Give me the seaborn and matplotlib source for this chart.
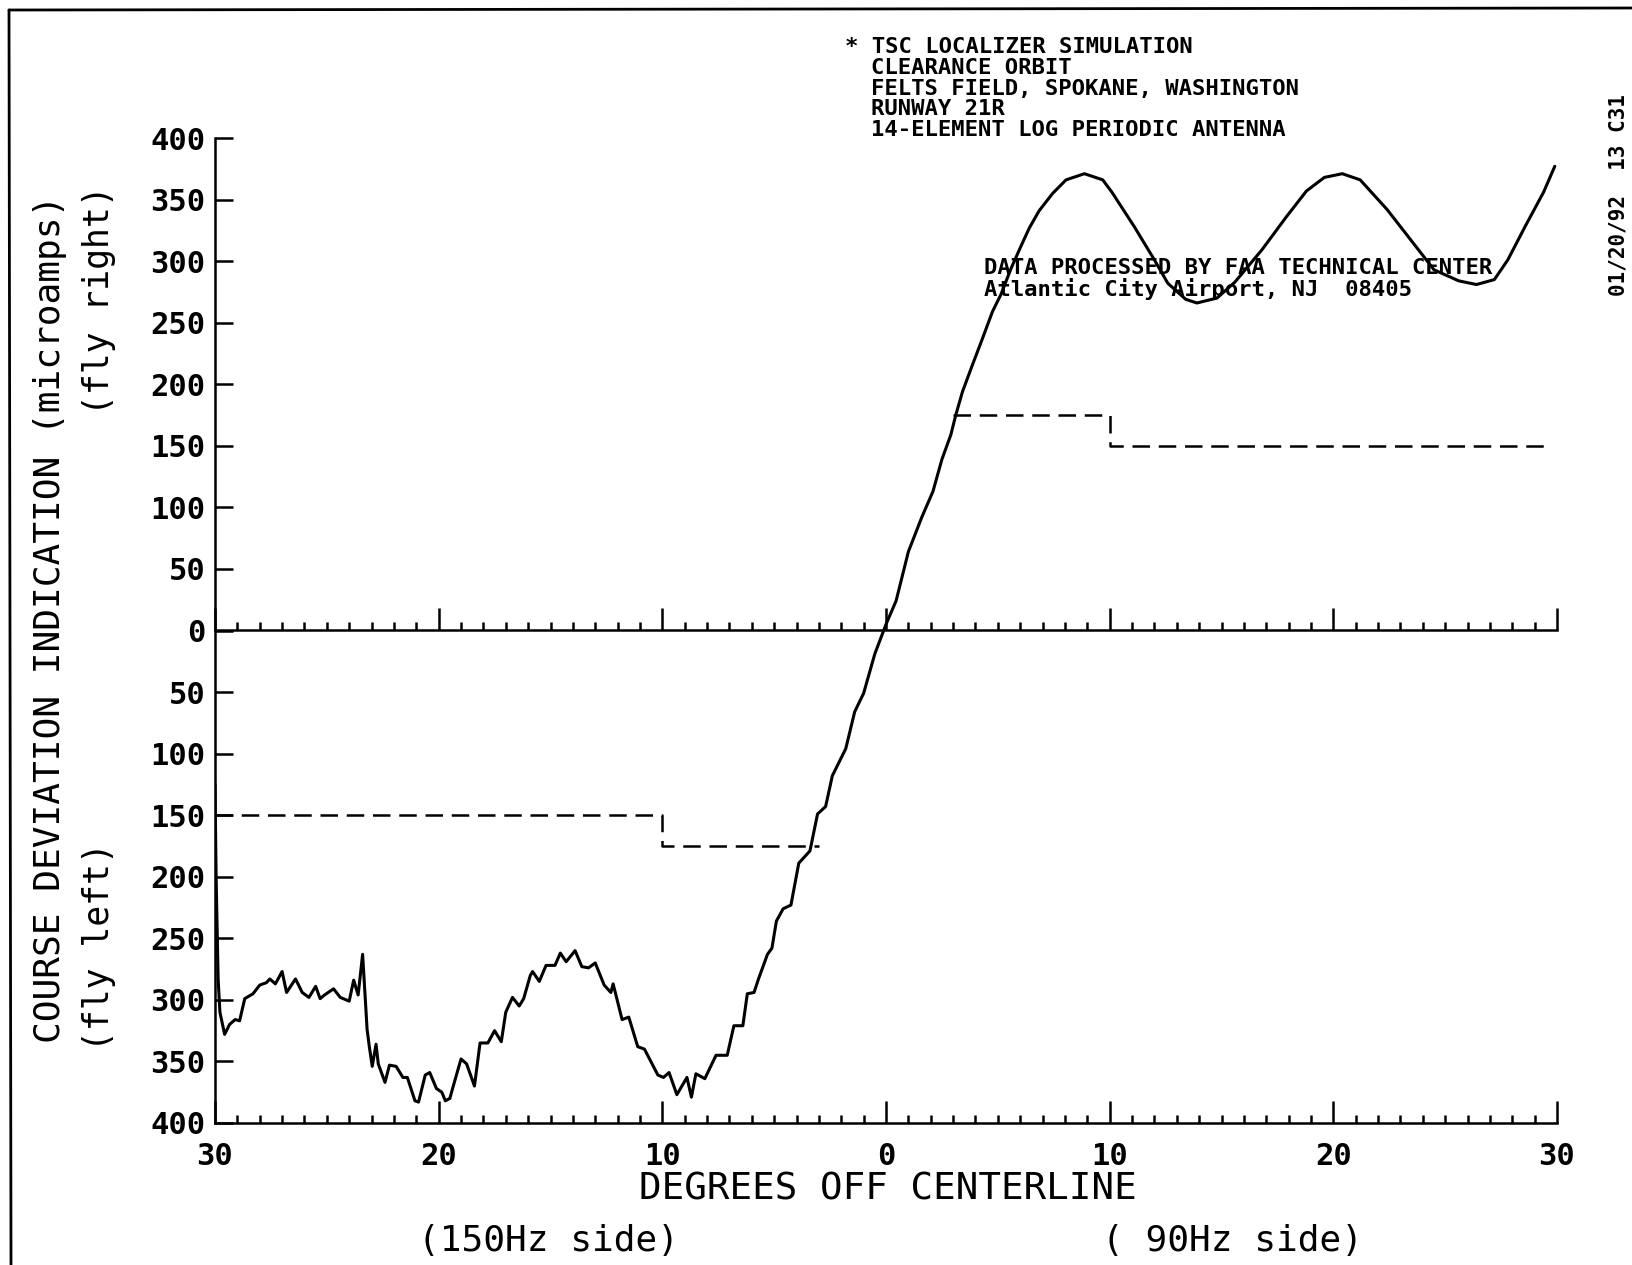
import matplotlib
matplotlib.use("Agg")
import matplotlib.pyplot as plt
import seaborn as sns
import pandas as pd
from matplotlib.ticker import MultipleLocator, FuncFormatter, FixedLocator
from matplotlib.lines import Line2D

# ---------------- data ----------------
deg_off = [-30.0, -29.95, -29.86, -29.78, -29.57, -29.35, -29.1, -28.9, -28.67, -28.3,
           -28.0, -27.7, -27.55, -27.3, -27.0, -26.8, -26.4, -26.1, -25.8, -25.5,
           -25.3, -25.1, -24.7, -24.4, -24.0, -23.8, -23.6, -23.4, -23.3, -23.2,
           -23.1, -22.97, -22.8, -22.7, -22.4, -22.2, -21.9, -21.6, -21.4, -21.06,
           -20.9, -20.6, -20.4, -20.1, -19.86, -19.7, -19.5, -19.3, -19.0, -18.75,
           -18.4, -18.15, -17.8, -17.5, -17.2, -17.0, -16.7, -16.4, -16.2, -15.9,
           -15.8, -15.5, -15.2, -14.8, -14.56, -14.3, -13.9, -13.6, -13.3, -13.0,
           -12.6, -12.3, -12.2, -11.8, -11.5, -11.1, -10.8, -10.2, -9.95, -9.7,
           -9.35, -8.9, -8.7, -8.5, -8.1, -7.6, -7.1, -6.8, -6.4, -6.2,
           -5.9, -5.7, -5.3, -5.1, -4.9, -4.6, -4.25, -3.9, -3.4, -3.06,
           -2.7, -2.4, -1.8, -1.4, -1.0, -0.5, 0.0, 0.45, 1.0, 1.6,
           2.1, 2.5, 2.9, 3.12, 3.42, 3.87, 4.31, 4.76, 5.14, 5.59,
           6.03, 6.41, 6.85, 7.45, 8.05, 8.87, 9.69, 10.1, 11.1, 12.0,
           12.6, 13.4, 13.9, 14.8, 15.6, 16.8, 17.9, 18.8, 19.6, 20.4,
           21.2, 22.4, 23.6, 24.5, 25.6, 26.4, 27.2, 27.8, 28.6, 29.4,
           29.9]
cdi_microamps = [-125, -200, -283, -310, -328, -320, -316, -317, -299, -295,
                 -288, -286, -283, -287, -277, -294, -283, -294, -298, -289,
                 -299, -296, -291, -298, -301, -284, -296, -263, -293, -324,
                 -338, -354, -336, -352, -367, -353, -354, -363, -363, -382,
                 -383, -361, -359, -372, -375, -382, -380, -367, -348, -352,
                 -370, -335, -335, -325, -334, -310, -298, -305, -299, -280,
                 -277, -285, -272, -272, -262, -269, -260, -273, -274, -270,
                 -288, -294, -287, -316, -314, -338, -340, -361, -363, -359,
                 -377, -363, -379, -360, -364, -345, -345, -321, -321, -295,
                 -294, -283, -263, -258, -236, -226, -223, -189, -179, -149,
                 -143, -118, -96, -66, -51, -19, 5, 24, 64, 92,
                 113, 139, 159, 175, 194, 216, 237, 259, 273, 294,
                 312, 327, 341, 355, 366, 371, 366, 356, 328, 301,
                 282, 269, 266, 270, 283, 309, 336, 357, 368, 371,
                 366, 342, 314, 293, 284, 281, 285, 301, 329, 356,
                 377]

limit_150_x = [-30, -10, -3]
limit_150_y = [-150, -175, -175]
limit_90_x = [3, 10, 29.5]
limit_90_y = [175, 150, 150]

x_major_ticks = [-30, -20, -10, 0, 10, 20, 30]
y_ticks = list(range(-400, 401, 50))

header_first = "* TSC LOCALIZER SIMULATION"
header_rest = ["CLEARANCE ORBIT",
               "FELTS FIELD, SPOKANE, WASHINGTON",
               "RUNWAY 21R",
               "14-ELEMENT LOG PERIODIC ANTENNA"]
processed_lines = ["DATA PROCESSED BY FAA TECHNICAL CENTER",
                   "Atlantic City Airport, NJ  08405"]
stamp_text = "01/20/92  13 C31"
y_label = "COURSE DEVIATION INDICATION (microamps)"
x_label = "DEGREES OFF CENTERLINE"
fly_right = "(fly right)"
fly_left = "(fly left)"
side_150 = "(150Hz side)"
side_90 = "( 90Hz side)"

# ---------------- figure ----------------
sns.set_style("ticks")
MONO = ["DejaVu Sans Mono", "DejaVu Sans"]
plt.rcParams["font.family"] = MONO

W, H = 1632, 1265
fig = plt.figure(figsize=(W / 100, H / 100), dpi=100)
fig.patch.set_facecolor("white")


def fx(px):
    return px / W


def fy(py):
    return 1 - py / H


ax = fig.add_axes([fx(215), fy(1123), fx(1557) - fx(215), fy(138) - fy(1123)])
ax.set_facecolor("white")

curve = pd.DataFrame({"deg": deg_off, "cdi": cdi_microamps})
sns.lineplot(data=curve, x="deg", y="cdi", sort=False, estimator=None,
             color="black", linewidth=2.2, ax=ax)
dash = (0, (7, 3.5))
sns.lineplot(x=limit_150_x, y=limit_150_y, estimator=None, color="black",
             linewidth=1.8, linestyle=dash, drawstyle="steps-post", ax=ax)
sns.lineplot(x=limit_90_x, y=limit_90_y, estimator=None, color="black",
             linewidth=1.8, linestyle=dash, drawstyle="steps-post", ax=ax)

ax.set_xlim(-30, 30)
ax.set_ylim(-400, 400)
ax.set_xlabel("")
ax.set_ylabel("")

for s in ["top", "right"]:
    ax.spines[s].set_visible(False)
for s in ["left", "bottom"]:
    ax.spines[s].set_linewidth(1.8)
    ax.spines[s].set_color("black")

abs_fmt = FuncFormatter(lambda v, p: f"{abs(int(round(v)))}")

ax.xaxis.set_major_locator(FixedLocator(x_major_ticks))
ax.xaxis.set_minor_locator(MultipleLocator(1))
ax.xaxis.set_major_formatter(abs_fmt)
ax.tick_params(axis="x", which="major", direction="in", length=16, width=1.8,
               pad=14, labelsize=22, colors="black")
ax.tick_params(axis="x", which="minor", direction="in", length=6, width=1.8,
               colors="black")

ax.yaxis.set_major_locator(FixedLocator(y_ticks))
ax.yaxis.set_major_formatter(abs_fmt)
ax.tick_params(axis="y", which="major", direction="in", length=13, width=1.8,
               pad=7, labelsize=22, colors="black")
for lab in ax.get_xticklabels() + ax.get_yticklabels():
    lab.set_fontweight("bold")

# zero line with its own tick marks (centre of symmetric y range)
sec = ax.secondary_xaxis(0.5)
sec.xaxis.set_major_locator(FixedLocator(x_major_ticks))
sec.xaxis.set_minor_locator(MultipleLocator(1))
sec.tick_params(axis="x", which="both", labeltop=False, labelbottom=False)
sec.tick_params(axis="x", which="major", direction="out", length=16, width=1.8,
                colors="black")
sec.tick_params(axis="x", which="minor", direction="out", length=6, width=1.8,
                colors="black")
for s in sec.spines.values():
    s.set_linewidth(1.8)
    s.set_color("black")

# ---------------- texts ----------------
fig.text(fx(50), fy(619), y_label, rotation=90, ha="center", va="center",
         fontsize=26, color="black")
fig.text(fx(99), fy(300), fly_right, rotation=90, ha="center", va="center",
         fontsize=25, color="black")
fig.text(fx(99), fy(947), fly_left, rotation=90, ha="center", va="center",
         fontsize=25, color="black")
fig.text(fx(888), fy(1190), x_label, ha="center", va="center",
         fontsize=27, color="black")
fig.text(fx(549), fy(1241), side_150, ha="center", va="center",
         fontsize=26, color="black")
fig.text(fx(1232), fy(1241), side_90, ha="center", va="center",
         fontsize=26, color="black")

fig.text(fx(845), fy(46.8), header_first, ha="left", va="center",
         fontsize=16, fontweight="bold", color="black")
for i, line in enumerate(header_rest):
    fig.text(fx(871), fy(67.7 + 20.8 * i), line, ha="left", va="center",
             fontsize=16, fontweight="bold", color="black")
for i, line in enumerate(processed_lines):
    fig.text(fx(984), fy(268.5 + 20.8 * i), line, ha="left", va="center",
             fontsize=16, fontweight="bold", color="black")
fig.text(fx(1618), fy(195), stamp_text, rotation=90, ha="center", va="center",
         fontsize=15, fontweight="bold", color="black")

# page frame (top and left edges of the scanned sheet)
fig.add_artist(Line2D([fx(9), fx(1632)], [fy(10), fy(8)], transform=fig.transFigure,
                      color="black", linewidth=2))
fig.add_artist(Line2D([fx(9), fx(11)], [fy(10), fy(1265)], transform=fig.transFigure,
                      color="black", linewidth=2))

fig.savefig("out.png", dpi=100, facecolor="white")
